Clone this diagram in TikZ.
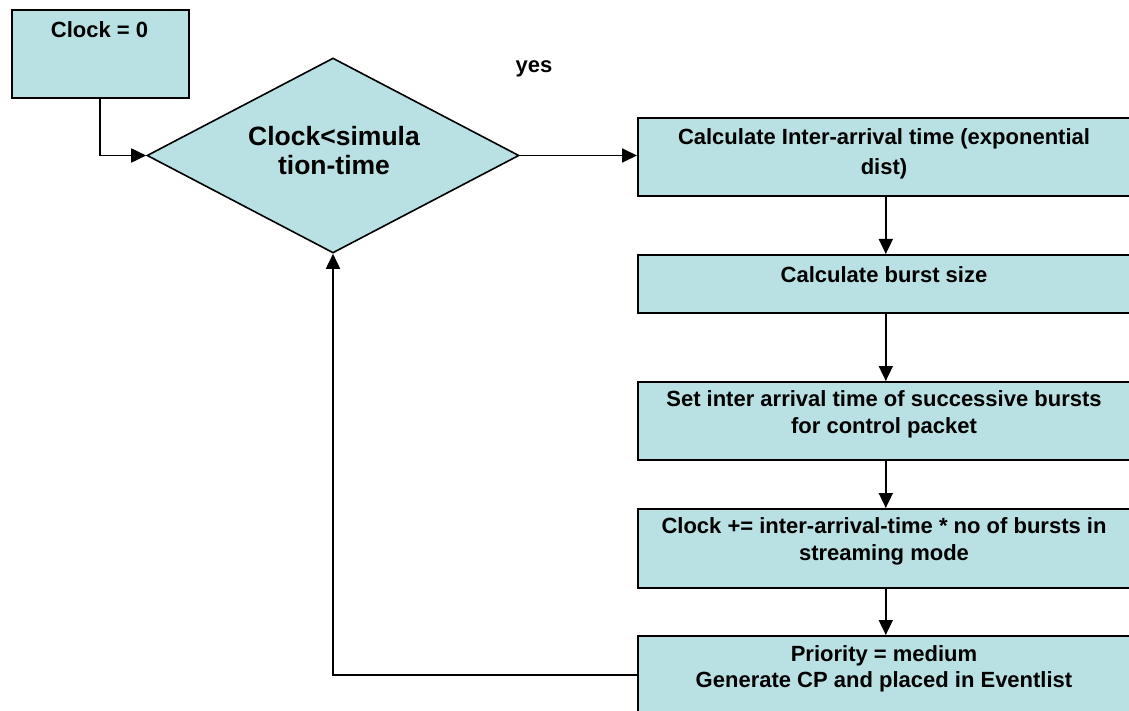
\documentclass[tikz,border=0pt]{standalone}
\usepackage{fontspec}
\setmainfont{Liberation Sans}
\usetikzlibrary{arrows.meta,shapes.geometric}
\definecolor{flowfill}{RGB}{185,224,227}
\begin{document}
\begin{tikzpicture}[x=1pt,y=-1pt,
  box/.style={draw=black,line width=1.6pt,fill=flowfill,inner sep=0pt,
              minimum width=496pt,anchor=north west},
  startbox/.style={draw=black,line width=1.6pt,fill=flowfill,inner sep=0pt,
              minimum width=177pt,minimum height=88pt,anchor=north west},
  decision/.style={diamond,draw=black,line width=1.6pt,fill=flowfill,inner sep=0pt,
              minimum width=372pt,minimum height=195pt},
  txt/.style={font=\bfseries\fontsize{22}{26.5}\selectfont,align=center,inner sep=0pt},
  bigtxt/.style={font=\bfseries\fontsize{26.5}{29}\selectfont,align=center,inner sep=0pt},
  conn/.style={line width=1.8pt,-{Triangle[length=15pt,width=14pt]}}
]
\useasboundingbox (0,0) rectangle (1129,711);
\clip (0,0) rectangle (1129,711);

% start box and decision
\node[startbox] (clk) at (11,9) {};
\node[txt] (clkt) at (99.5,30) {Clock = 0};
\node[decision] (dec) at (333,155.5) {};
\node[bigtxt] (dect) at (334,151) {Clock<simula\\tion-time};
\node[txt] (yes) at (534,69) {yes};

% process column
\node[box,minimum height=78pt] (b1) at (637,117) {};
\node[box,minimum height=58pt] (b2) at (637,254) {};
\node[box,minimum height=78pt] (b3) at (637,381) {};
\node[box,minimum height=79pt] (b4) at (637,508) {};
\node[box,minimum height=78pt] (b5) at (637,635) {};

\node[txt] (t1) at (884,154) {Calculate Inter-arrival time (exponential\\[3.5pt]dist)};
\node[txt] (t2) at (884,275) {Calculate burst size};
\node[txt] (t3) at (884,414.5) {Set inter arrival time of successive bursts\\for control packet};
\node[txt] (t4) at (884,541.5) {Clock += inter-arrival-time * no of bursts in\\[1pt]streaming mode};
\node[txt] (t5) at (884,669) {Priority = medium\\Generate CP and placed in Eventlist};

% connectors
\draw[conn] (clk.south) |- (dec.west);
\draw[conn] (dec.east) -- (dec.east -| b1.west);
\draw[conn] (b1.south) -- (b2.north);
\draw[conn] (b2.south) -- (b3.north);
\draw[conn] (b3.south) -- (b4.north);
\draw[conn] (b4.south) -- (b5.north);
\draw[conn] (b5.west) -| (dec.south);
\end{tikzpicture}
\end{document}
